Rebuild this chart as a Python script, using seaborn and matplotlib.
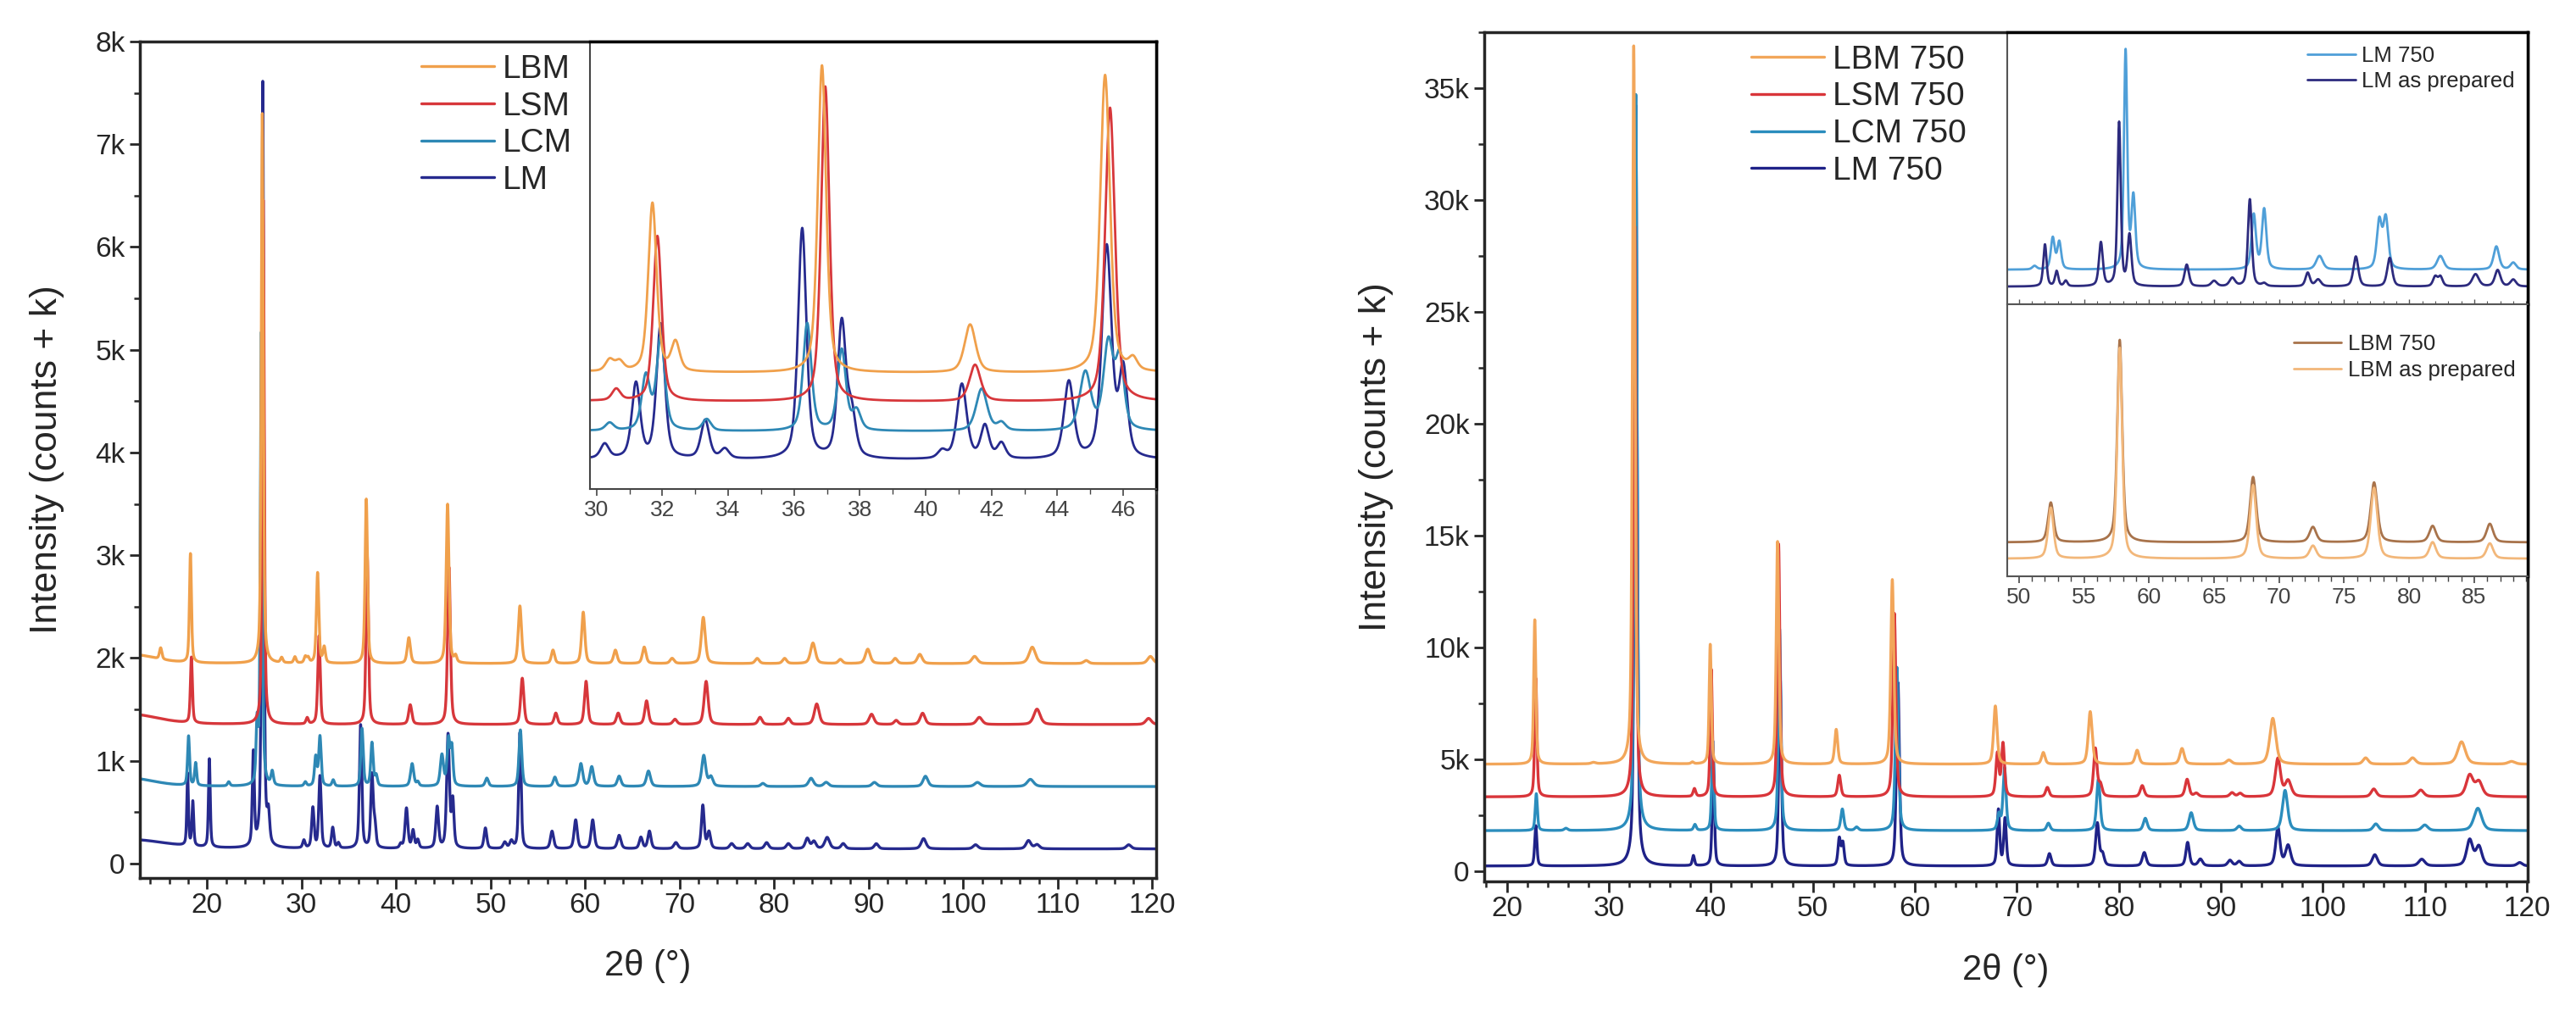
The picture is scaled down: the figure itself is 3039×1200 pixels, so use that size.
import numpy as np
import pandas as pd
import matplotlib
matplotlib.use("Agg")
import matplotlib.pyplot as plt
import seaborn as sns
from matplotlib.ticker import MultipleLocator, FuncFormatter, NullFormatter, NullLocator

# ---- data: (2theta, height above baseline, fwhm) ----
# left panel, as prepared samples (counts)
left_names = ['LBM', 'LSM', 'LCM', 'LM']
left_offsets = [1946, 1353, 750, 143]          # baseline in main plot
left_inset_offsets = [605, 455, 300, 150]      # baseline in 30-47 inset

lbm_peaks = [(12.0, 90, 6.0), (15.1, 110, 0.3), (18.25, 1060, 0.25), (25.85, 5350, 0.25),
             (27.9, 50, 0.3), (29.3, 60, 0.3), (30.4, 60, 0.3), (30.7, 50, 0.3),
             (31.7, 880, 0.3), (32.4, 150, 0.3), (36.85, 1600, 0.3), (41.35, 250, 0.4),
             (45.45, 1550, 0.35), (46.3, 60, 0.3), (53.1, 560, 0.4), (56.6, 130, 0.4),
             (59.8, 500, 0.4), (63.2, 130, 0.45), (66.25, 160, 0.45), (69.2, 50, 0.5),
             (72.5, 450, 0.5), (78.2, 50, 0.5), (81.1, 50, 0.5), (84.1, 200, 0.6),
             (87.0, 40, 0.5), (89.9, 140, 0.6), (92.8, 50, 0.5), (95.4, 90, 0.6),
             (101.2, 70, 0.7), (107.3, 160, 0.8), (113.0, 30, 0.6), (119.8, 70, 0.7)]
lsm_peaks = [(12.0, 100, 7.0), (18.35, 640, 0.25), (25.95, 5100, 0.25), (30.6, 60, 0.3),
             (31.85, 860, 0.3), (36.95, 1640, 0.3), (41.5, 190, 0.4), (45.6, 1530, 0.35),
             (53.35, 450, 0.4), (56.9, 110, 0.4), (60.1, 420, 0.4), (63.5, 110, 0.45),
             (66.5, 230, 0.45), (69.5, 50, 0.5), (72.8, 420, 0.5), (78.5, 70, 0.5),
             (81.5, 60, 0.5), (84.5, 200, 0.6), (90.3, 100, 0.6), (92.9, 40, 0.5),
             (95.7, 110, 0.6), (101.7, 70, 0.7), (107.8, 150, 0.8), (119.6, 60, 0.7)]
lcm_peaks = [(12.0, 80, 6.0), (18.05, 480, 0.25), (18.8, 220, 0.25), (22.3, 40, 0.3),
             (25.3, 560, 0.25), (25.75, 4400, 0.25), (26.9, 130, 0.3), (30.4, 40, 0.3),
             (31.5, 280, 0.3), (31.95, 480, 0.3), (33.35, 60, 0.3), (36.4, 560, 0.3),
             (37.45, 420, 0.3), (37.9, 100, 0.3), (41.7, 220, 0.4), (42.3, 40, 0.3),
             (44.85, 300, 0.4), (45.55, 450, 0.35), (45.9, 360, 0.3), (49.6, 80, 0.4),
             (53.15, 550, 0.35), (56.8, 90, 0.4), (59.55, 220, 0.45), (60.7, 190, 0.45),
             (63.6, 100, 0.45), (66.7, 150, 0.5), (72.55, 300, 0.5), (73.3, 90, 0.5),
             (78.8, 30, 0.5), (83.9, 80, 0.6), (85.5, 40, 0.6), (90.6, 40, 0.6),
             (96.0, 100, 0.6), (101.5, 40, 0.7), (107.1, 70, 0.8)]
lm_peaks = [(12.0, 90, 9.0), (17.95, 700, 0.2), (18.5, 430, 0.22), (20.25, 860, 0.22),
            (24.9, 900, 0.25), (25.9, 7450, 0.25), (26.5, 270, 0.3), (30.25, 75, 0.3),
            (31.2, 390, 0.3), (31.95, 700, 0.3), (33.3, 200, 0.3), (33.9, 50, 0.3),
            (36.25, 1200, 0.3), (37.45, 700, 0.3), (37.75, 220, 0.3), (40.5, 40, 0.3),
            (41.1, 390, 0.35), (41.8, 170, 0.3), (42.3, 80, 0.3), (44.35, 400, 0.35),
            (45.5, 1100, 0.35), (46.0, 450, 0.3), (49.45, 200, 0.35), (51.5, 60, 0.4),
            (52.2, 70, 0.4), (53.1, 1130, 0.3), (56.5, 170, 0.4), (59.0, 280, 0.4),
            (60.8, 280, 0.4), (63.6, 130, 0.45), (65.9, 110, 0.4), (66.8, 170, 0.4),
            (69.6, 60, 0.5), (72.45, 420, 0.35), (73.1, 160, 0.4), (75.5, 50, 0.5),
            (77.2, 50, 0.5), (79.2, 60, 0.5), (81.5, 50, 0.5), (83.5, 100, 0.5),
            (84.2, 70, 0.5), (85.6, 110, 0.6), (87.3, 50, 0.5), (90.8, 50, 0.5),
            (95.8, 100, 0.6), (101.3, 40, 0.6), (106.9, 80, 0.6), (107.8, 40, 0.6),
            (117.5, 40, 0.6)]
left_peaks = [lbm_peaks, lsm_peaks, lcm_peaks, lm_peaks]
left_colors = ['#f0a04b', '#d7373b', '#2e88b5', '#262a8e']

# right panel, samples treated at 750 (counts)
right_names = ['LBM 750', 'LSM 750', 'LCM 750', 'LM 750']
right_offsets = [4770, 3310, 1800, 220]
lbm750_peaks = [(22.75, 6450, 0.25), (28.5, 60, 0.5), (32.45, 32100, 0.3), (38.2, 80, 0.3),
                (39.95, 5350, 0.25), (46.55, 9950, 0.3), (52.3, 1550, 0.35), (57.8, 8250, 0.35),
                (67.9, 2600, 0.4), (72.6, 520, 0.4), (77.2, 2350, 0.45), (81.8, 620, 0.45),
                (86.2, 700, 0.5), (90.8, 180, 0.6), (95.1, 2050, 0.7), (104.2, 280, 0.6),
                (108.8, 280, 0.7), (113.6, 1000, 0.9), (118.5, 120, 0.8)]
lsm750_peaks = [(22.85, 5300, 0.25), (32.55, 25500, 0.3), (38.4, 350, 0.3), (40.05, 5700, 0.25),
                (46.65, 11300, 0.3), (52.6, 960, 0.35), (58.0, 8200, 0.35), (68.1, 1900, 0.35),
                (68.65, 2350, 0.35), (73.0, 420, 0.4), (77.7, 2150, 0.4), (78.2, 500, 0.4),
                (82.3, 500, 0.45), (86.7, 780, 0.45), (87.6, 150, 0.5), (91.1, 180, 0.5),
                (91.9, 150, 0.5), (95.6, 1700, 0.6), (96.6, 700, 0.7), (105.0, 350, 0.6),
                (109.6, 300, 0.7), (114.4, 950, 0.8), (115.3, 650, 0.8)]
lcm750_peaks = [(22.9, 1650, 0.25), (25.8, 100, 0.4), (32.65, 32900, 0.3), (38.45, 260, 0.3),
                (40.2, 4000, 0.25), (46.75, 9000, 0.3), (52.9, 960, 0.35), (54.3, 150, 0.4),
                (58.25, 7300, 0.35), (68.25, 700, 0.35), (68.8, 2800, 0.35), (73.1, 330, 0.4),
                (78.0, 2300, 0.4), (82.6, 550, 0.45), (87.1, 800, 0.5), (91.8, 200, 0.5),
                (96.3, 1800, 0.6), (105.2, 300, 0.6), (110.0, 250, 0.7), (115.2, 1000, 0.9)]
lm750_peaks = [(22.85, 1800, 0.25), (32.65, 34000, 0.3), (38.3, 450, 0.25), (40.25, 4800, 0.25),
               (46.8, 8500, 0.3), (52.6, 1200, 0.3), (52.95, 1000, 0.3), (58.35, 8200, 0.35),
               (68.2, 2500, 0.3), (68.85, 2100, 0.3), (73.2, 550, 0.4), (77.9, 1900, 0.4),
               (78.4, 500, 0.4), (82.5, 600, 0.45), (86.75, 1050, 0.4), (88.0, 300, 0.5),
               (90.9, 250, 0.5), (91.8, 200, 0.5), (95.6, 1700, 0.5), (96.6, 900, 0.6),
               (105.1, 500, 0.6), (109.7, 300, 0.7), (114.4, 1150, 0.7), (115.3, 850, 0.7),
               (119.3, 150, 0.6)]
right_peaks = [lbm750_peaks, lsm750_peaks, lcm750_peaks, lm750_peaks]
right_colors = ['#f2a65a', '#d9353a', '#2b8dbd', '#1f2288']

# right insets (arbitrary units, 0-100)
lm_cmp_names = ['LM 750', 'LM as prepared']
lm_cmp_offsets = [12.7, 6.5]
lm_cmp_colors = ['#4f9fd8', '#2d2b7e']
lm750_zoom_peaks = [(51.2, 1.3, 0.4), (52.6, 11.5, 0.35), (53.1, 10, 0.35), (58.2, 80, 0.3),
                    (58.8, 26, 0.35), (68.05, 20, 0.4), (68.85, 22, 0.4), (73.1, 5, 0.6),
                    (77.7, 17.5, 0.45), (78.2, 18.5, 0.45), (82.4, 5, 0.6), (86.7, 8.5, 0.5),
                    (88.0, 2.5, 0.5)]
lmprep_zoom_peaks = [(52.0, 15.4, 0.3), (52.9, 5.5, 0.3), (53.6, 2, 0.3), (56.3, 16, 0.35),
                     (57.7, 60, 0.3), (58.5, 18.5, 0.35), (62.9, 8, 0.4), (65.0, 2, 0.5),
                     (66.4, 3, 0.5), (67.75, 32, 0.35), (68.85, 1, 0.4), (72.2, 5, 0.4),
                     (73.0, 2.5, 0.5), (75.9, 11, 0.45), (78.5, 10.5, 0.45), (82.0, 3.5, 0.4),
                     (82.4, 3.5, 0.4), (85.1, 4.5, 0.6), (86.8, 6, 0.5), (88.0, 2.5, 0.5)]

lbm_cmp_names = ['LBM 750', 'LBM as prepared']
lbm_cmp_offsets = [12.5, 6.5]
lbm_cmp_colors = ['#a8734b', '#f2b77a']
lbm750_zoom_peaks = [(52.45, 14.6, 0.5), (57.75, 74.4, 0.45), (68.0, 24, 0.55), (72.6, 5.6, 0.6),
                     (77.3, 22, 0.6), (81.8, 6, 0.6), (86.2, 6.8, 0.6)]
lbmprep_zoom_peaks = [(52.45, 18.7, 0.5), (57.75, 77.5, 0.45), (68.0, 27, 0.55), (72.6, 4.7, 0.6),
                      (77.3, 26, 0.6), (81.8, 6, 0.6), (86.2, 5.6, 0.6)]


def pattern(x, peaks, eta=0.5):
    # pseudo-Voigt profile for every listed reflection
    y = np.zeros_like(x)
    for pos, h, w in peaks:
        d = ((x - pos) / w) ** 2
        y += h * (eta / (1 + 4 * d) + (1 - eta) * np.exp(-4 * np.log(2) * d))
    return y


def kfmt(v, pos):
    return '0' if v == 0 else f'{int(round(v / 1000))}k'


sns.set_style('ticks')
plt.rcParams['font.family'] = ['Liberation Sans', 'DejaVu Sans']
plt.rcParams['axes.linewidth'] = 2.5

fig = plt.figure(figsize=(30.39, 12), dpi=100)

# ---------------- left panel ----------------
ax1 = fig.add_axes([0.0543, 0.1367, 0.3945, 0.8225])
x1 = np.arange(12.9, 120.5, 0.01)
for name, pk, off, col in reversed(list(zip(left_names, left_peaks, left_offsets, left_colors))):
    df = pd.DataFrame({'two_theta': x1, 'intensity': pattern(x1, pk) + off})
    sns.lineplot(data=df, x='two_theta', y='intensity', ax=ax1, color=col, linewidth=2.4,
                 estimator=None, sort=False, label=name)
h, l = ax1.get_legend_handles_labels()
order = [l.index(n) for n in left_names]
ax1.legend([h[i] for i in order], [l[i] for i in order], loc='upper left',
           bbox_to_anchor=(0.277, 0.985), frameon=False, fontsize=28, handlelength=2.2,
           handletextpad=0.25, labelspacing=0.2, borderpad=0, borderaxespad=0)
ax1.set_xlim(12.9, 120.4)
ax1.set_ylim(-140, 8000)
ax1.xaxis.set_major_locator(MultipleLocator(10))
ax1.xaxis.set_minor_locator(MultipleLocator(2))
ax1.yaxis.set_major_locator(MultipleLocator(1000))
ax1.yaxis.set_minor_locator(MultipleLocator(500))
ax1.yaxis.set_major_formatter(FuncFormatter(kfmt))
ax1.tick_params(which='major', labelsize=24, length=9, width=2)
ax1.tick_params(which='minor', length=5, width=1.8)
ax1.set_xlabel('2θ (°)', fontsize=30, labelpad=26)
ax1.set_ylabel('Intensity (counts + k)', fontsize=32, labelpad=26)

# left inset 30-47 degrees
ins1 = fig.add_axes([0.229, 0.519, 0.2198, 0.44])
x1i = np.arange(29.5, 47.5, 0.005)
for name, pk, off, col in reversed(list(zip(left_names, left_peaks, left_inset_offsets, left_colors))):
    df = pd.DataFrame({'two_theta': x1i, 'intensity': pattern(x1i, pk) + off})
    sns.lineplot(data=df, x='two_theta', y='intensity', ax=ins1, color=col, linewidth=2.0,
                 estimator=None, sort=False, legend=False)
ins1.set_xlim(29.8, 47.0)
ins1.set_ylim(0, 2330)
ins1.set_xlabel('')
ins1.set_ylabel('')
ins1.yaxis.set_major_locator(NullLocator())
ins1.xaxis.set_major_locator(MultipleLocator(2))
ins1.xaxis.set_minor_locator(MultipleLocator(1))
ins1.tick_params(which='major', labelsize=19, length=6, width=1.2, colors='#444')
ins1.tick_params(which='minor', length=4, width=1.0, colors='#444')
for s in ins1.spines.values():
    s.set_linewidth(1.5)
    s.set_color('#444')

# ---------------- right panel ----------------
ax2 = fig.add_axes([0.5762, 0.1333, 0.4051, 0.8354])
x2 = np.arange(17.8, 120.1, 0.01)
for name, pk, off, col in reversed(list(zip(right_names, right_peaks, right_offsets, right_colors))):
    df = pd.DataFrame({'two_theta': x2, 'intensity': pattern(x2, pk) + off})
    sns.lineplot(data=df, x='two_theta', y='intensity', ax=ax2, color=col, linewidth=2.4,
                 estimator=None, sort=False, label=name)
h, l = ax2.get_legend_handles_labels()
order = [l.index(n) for n in right_names]
ax2.legend([h[i] for i in order], [l[i] for i in order], loc='upper left',
           bbox_to_anchor=(0.256, 0.985), frameon=False, fontsize=28, handlelength=2.2,
           handletextpad=0.25, labelspacing=0.2, borderpad=0, borderaxespad=0)
ax2.set_xlim(17.8, 120.1)
ax2.set_ylim(-470, 37500)
ax2.xaxis.set_major_locator(MultipleLocator(10))
ax2.xaxis.set_minor_locator(MultipleLocator(2))
ax2.yaxis.set_major_locator(MultipleLocator(5000))
ax2.yaxis.set_minor_locator(MultipleLocator(2500))
ax2.yaxis.set_major_formatter(FuncFormatter(kfmt))
ax2.tick_params(which='major', labelsize=24, length=9, width=2)
ax2.tick_params(which='minor', length=5, width=1.8)
ax2.set_xlabel('2θ (°)', fontsize=30, labelpad=26)
ax2.set_ylabel('Intensity (counts + k)', fontsize=32, labelpad=26)

xz = np.arange(48.5, 90.0, 0.005)

# upper right inset: LM
ins2 = fig.add_axes([0.7792, 0.7008, 0.2020, 0.2679])
for name, pk, off, col in zip(lm_cmp_names, [lm750_zoom_peaks, lmprep_zoom_peaks], lm_cmp_offsets, lm_cmp_colors):
    df = pd.DataFrame({'two_theta': xz, 'intensity': pattern(xz, pk) + off})
    sns.lineplot(data=df, x='two_theta', y='intensity', ax=ins2, color=col, linewidth=2.0,
                 estimator=None, sort=False, label=name)
ins2.legend(loc='upper left', bbox_to_anchor=(0.577, 0.95), frameon=False, fontsize=18.5,
            handlelength=2.2, handletextpad=0.3, labelspacing=0.25, borderpad=0, borderaxespad=0)
ins2.set_xlim(49.1, 89.1)
ins2.set_ylim(0, 100)
ins2.set_xlabel('')
ins2.set_ylabel('')
ins2.yaxis.set_major_locator(NullLocator())
ins2.xaxis.set_major_locator(MultipleLocator(5))
ins2.xaxis.set_minor_locator(MultipleLocator(1))
ins2.xaxis.set_major_formatter(NullFormatter())
ins2.tick_params(which='major', length=4, width=1.0, colors='#555', direction='in')
ins2.tick_params(which='minor', length=3, width=0.8, colors='#555', direction='in')

# lower right inset: LBM
ins3 = fig.add_axes([0.7792, 0.4333, 0.2020, 0.2675])
for name, pk, off, col in zip(lbm_cmp_names, [lbm750_zoom_peaks, lbmprep_zoom_peaks], lbm_cmp_offsets, lbm_cmp_colors):
    df = pd.DataFrame({'two_theta': xz, 'intensity': pattern(xz, pk) + off})
    sns.lineplot(data=df, x='two_theta', y='intensity', ax=ins3, color=col, linewidth=2.0,
                 estimator=None, sort=False, label=name)
ins3.legend(loc='upper left', bbox_to_anchor=(0.55, 0.89), frameon=False, fontsize=18.5,
            handlelength=2.2, handletextpad=0.3, labelspacing=0.25, borderpad=0, borderaxespad=0)
ins3.set_xlim(49.1, 89.1)
ins3.set_ylim(0, 100)
ins3.set_xlabel('')
ins3.set_ylabel('')
ins3.yaxis.set_major_locator(NullLocator())
ins3.xaxis.set_major_locator(MultipleLocator(5))
ins3.xaxis.set_minor_locator(MultipleLocator(1))
ins3.tick_params(which='major', labelsize=19, length=6, width=1.2, colors='#444')
ins3.tick_params(which='minor', length=4, width=1.0, colors='#444')

for ax in (ins2, ins3):
    for s in ax.spines.values():
        s.set_linewidth(1.5)
        s.set_color('#555')
# inset edges that coincide with the main frame stay black
for s in (ins1.spines['right'], ins1.spines['top'], ins2.spines['right'], ins2.spines['top'],
          ins3.spines['right']):
    s.set_linewidth(2.5)
    s.set_color('black')

fig.savefig('out.png', dpi=100)
